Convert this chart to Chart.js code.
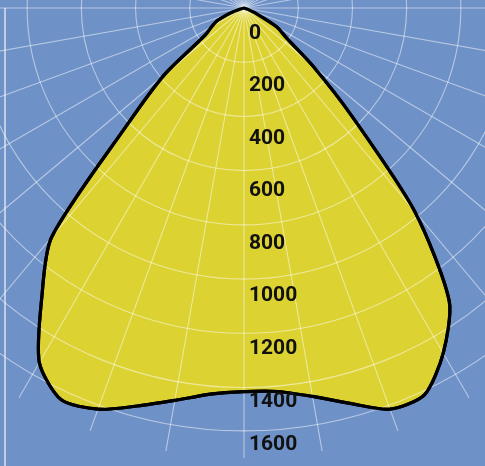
<!DOCTYPE html>
<html>
<head>
<meta charset="utf-8">
<script src="https://cdn.jsdelivr.net/npm/chart.js@4/dist/chart.umd.min.js"></script>
<style>
  html, body { margin: 0; padding: 0; }
  body { width: 485px; height: 466px; overflow: hidden; position: relative; background: #6e91c7; }
  #frame { position: absolute; left: 4px; top: 8px; height: 470px; border-left: 2px solid rgba(255,255,255,0.55); }
  #polar { position: absolute; left: -206px; top: -442px; }
</style>
</head>
<body>
<div id="frame"></div>
<canvas id="polar" width="900" height="900"></canvas>
<script>
// gamma angle from straight down, every 5 degrees
const gammaSteps = [0, 5, 10, 15, 20, 25, 30, 35, 40, 45, 50, 55, 60, 65, 70, 75, 80, 85, 90];
// intensity on the left half (going left from down)
const leftCandela = [1415, 1430, 1470, 1520, 1575, 1595, 1510, 1300, 1105, 610, 385, 175, 138, 105, 50, 10, 0, 0, 0];
// intensity on the right half
const rightCandela = [1415, 1420, 1455, 1510, 1575, 1575, 1470, 1320, 980, 560, 330, 190, 140, 55, 15, 0, 0, 0, 0];
// value labels along the vertical axis
const tickValues = [0, 200, 400, 600, 800, 1000, 1200, 1400, 1600];
// rings of the grid
const ringValues = [0, 200, 400, 600, 800, 1000, 1200, 1400, 1560];

const stepCount = 72; // 5 degree steps round the circle
const angleLabels = [];
const curve = [];
for (let i = 0; i < stepCount; i++) {
  angleLabels.push(i * 5 + "°");
  curve.push(0);
}
gammaSteps.forEach((g, i) => {
  curve[g / 5] = leftCandela[i];
  if (g > 0) curve[stepCount - g / 5] = rightCandela[i];
});

const gridColor = "rgba(255,255,255,0.5)";

const valueLabels = {
  id: "valueLabels",
  afterDraw(chart) {
    const scale = chart.scales.r;
    const ctx = chart.ctx;
    // stroke the outline again so the grid does not cut through it
    chart.getDatasetMeta(0).dataset.draw(ctx, chart.chartArea);
    ctx.save();
    ctx.font = "bold 21px Roboto";
    ctx.fillStyle = "#111";
    ctx.textAlign = "left";
    ctx.textBaseline = "alphabetic";
    for (const v of tickValues) {
      const r = scale.getDistanceFromCenterForValue(v);
      const y = Math.min(scale.yCenter + 23 + 0.97 * r, scale.yCenter + 434.5);
      ctx.fillText(String(v), scale.xCenter + 5, y + 7.5);
    }
    ctx.restore();
  },
};

new Chart(document.getElementById("polar").getContext("2d"), {
  type: "radar",
  data: {
    labels: angleLabels,
    datasets: [{
      data: curve,
      backgroundColor: "#dcd232",
      borderColor: "#000",
      borderWidth: 3.2,
      borderJoinStyle: "round",
      pointRadius: 0,
      tension: 0.25,
      fill: "origin",
    }],
  },
  options: {
    responsive: false,
    animation: false,
    layout: { padding: 0 },
    plugins: { legend: { display: false }, tooltip: { enabled: false } },
    scales: {
      r: {
        min: 0,
        max: 1660,
        startAngle: 180,
        afterBuildTicks: (scale) => {
          scale.ticks = ringValues.map((v) => ({ value: v }));
        },
        ticks: { display: false },
        pointLabels: { display: false },
        grid: { circular: true, color: gridColor, lineWidth: 1.1, z: 1 },
        angleLines: {
          color: (c) => (c.index % 2 === 0 ? gridColor : "rgba(0,0,0,0)"),
          lineWidth: 1.1,
        },
      },
    },
  },
  plugins: [valueLabels],
});
</script>
</body>
</html>
